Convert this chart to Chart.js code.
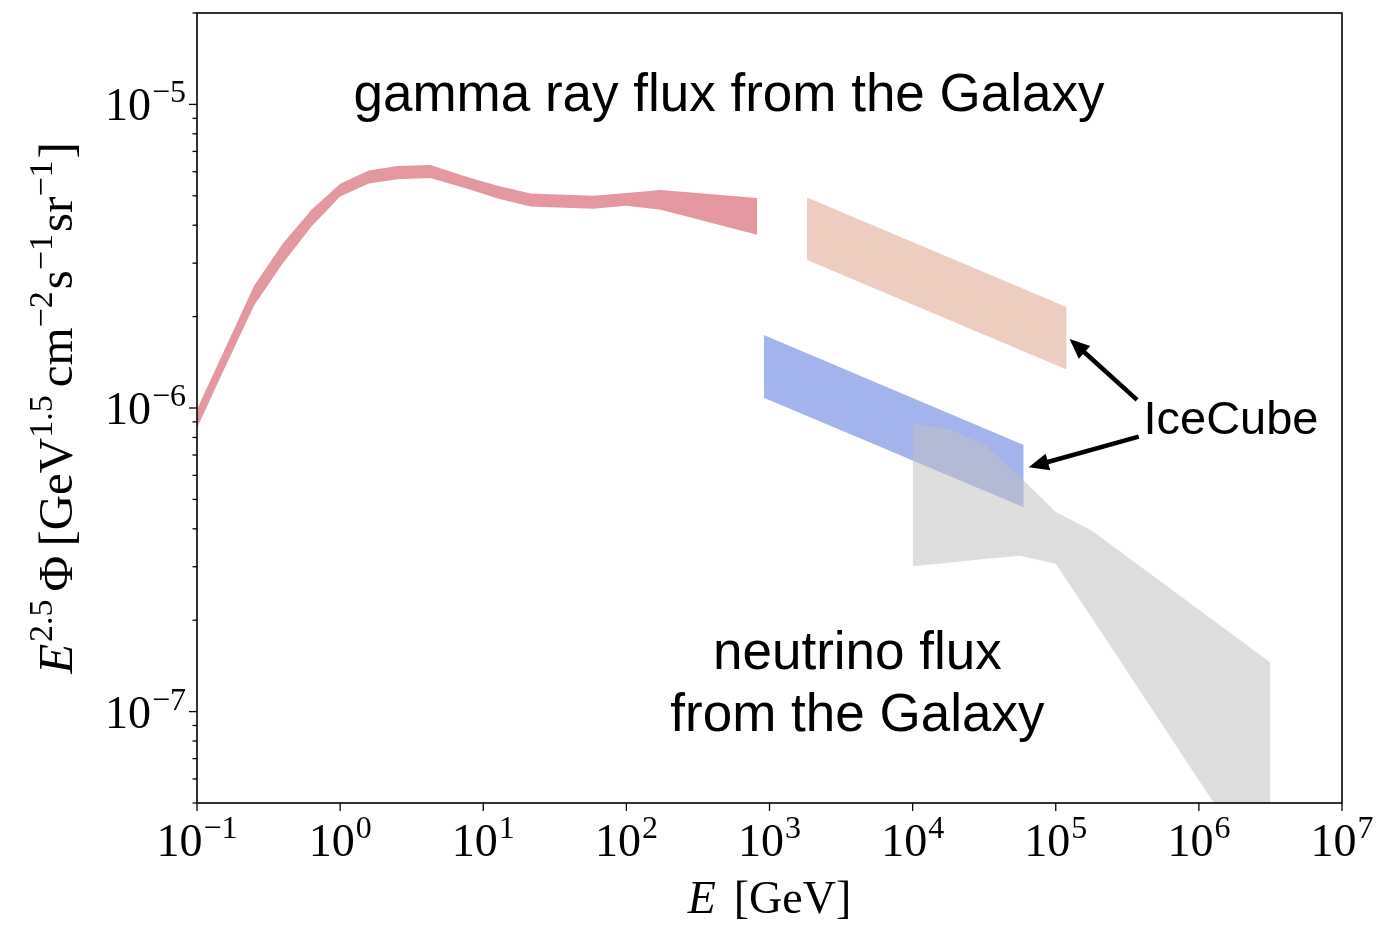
<!DOCTYPE html>
<html>
<head>
<meta charset="utf-8">
<script src="https://cdn.jsdelivr.net/npm/chart.js@4.4.1/dist/chart.umd.min.js"></script>
<style>
  html, body { margin: 0; padding: 0; background: #ffffff; }
  canvas { display: block; }
</style>
</head>
<body>
<canvas id="flux" width="1384" height="930"></canvas>
<script>
// ---- Data: energies in GeV, fluxes as E^2.5 * Phi [GeV^1.5 cm^-2 s^-1 sr^-1] ----

// Galactic diffuse gamma-ray band
const gammaE  = [0.1, 0.158, 0.251, 0.398, 0.631, 1.0, 1.585, 2.512, 4.27, 7.94, 12.6, 21.4, 58.9, 100, 174, 820];
const gammaHi = [9.90e-7, 1.58e-6, 2.53e-6, 3.48e-6, 4.50e-6, 5.48e-6, 6.06e-6, 6.27e-6, 6.31e-6, 5.74e-6, 5.40e-6, 5.09e-6, 5.00e-6, 5.11e-6, 5.22e-6, 4.92e-6];
const gammaLo = [8.60e-7, 1.37e-6, 2.18e-6, 3.00e-6, 3.96e-6, 4.97e-6, 5.49e-6, 5.67e-6, 5.72e-6, 5.25e-6, 4.90e-6, 4.61e-6, 4.53e-6, 4.64e-6, 4.50e-6, 3.72e-6];

// IceCube band (gamma-ray equivalent)
const icGammaE  = [1830, 1.19e5];
const icGammaHi = [4.94e-6, 2.15e-6];
const icGammaLo = [3.07e-6, 1.34e-6];

// IceCube band (neutrino)
const icNuE  = [912, 5.97e4];
const icNuHi = [1.74e-6, 7.56e-7];
const icNuLo = [1.08e-6, 4.71e-7];

// Galactic neutrino flux band
const nuE  = [1e4, 1.78e4, 3.16e4, 5.62e4, 1e5, 1.78e5, 3.16e6];
const nuHi = [8.86e-7, 8.53e-7, 7.58e-7, 5.94e-7, 4.54e-7, 3.95e-7, 1.45e-7];
const nuLo = [3.01e-7, 3.09e-7, 3.18e-7, 3.26e-7, 3.07e-7, 2.04e-7, 2.61e-8];

// Decade exponents for the tick labels
const xTickExps = [-1, 0, 1, 2, 3, 4, 5, 6, 7];
const yTickExps = [-7, -6, -5];

// ---- Styling ----
const SERIF = "'Liberation Serif', 'DejaVu Serif', serif";
const SANS  = "'Liberation Sans', Arial, sans-serif";

const COL_GAMMA   = 'rgb(228,151,159)';
const COL_ICGAMMA = 'rgb(238,205,192)';
const COL_ICNU    = 'rgb(163,180,236)';
const COL_NU      = 'rgba(192,192,192,0.52)';

// Annotations, placed in data coordinates
const notes = {
  gammaText: { text: 'gamma ray flux from the Galaxy', x: 521, y: 9.53e-6, size: 53 },
  nuText1:   { text: 'neutrino flux', x: 4110, y: 1.377e-7, size: 53 },
  nuText2:   { text: 'from the Galaxy', x: 4110, y: 8.60e-8, size: 53 },
  iceText:   { text: 'IceCube', x: 4.10e5, y: 8.23e-7, size: 47 },
  arrows: [
    { from: [3.70e5, 1.063e-6], to: [1.25e5, 1.688e-6] },
    { from: [3.80e5, 8.05e-7],  to: [6.47e4, 6.377e-7] }
  ]
};

function band(E, hi, lo, color, order) {
  return [
    { data: E.map((e, i) => ({ x: e, y: hi[i] })), fill: '+1', backgroundColor: color,
      borderWidth: 0, pointRadius: 0, order: order },
    { data: E.map((e, i) => ({ x: e, y: lo[i] })), fill: false,
      borderWidth: 0, pointRadius: 0, order: order }
  ];
}

// Text runs made of base pieces and raised superscript pieces
function pieces(ctx, parts) {
  let w = 0;
  for (const p of parts) { ctx.font = p.font; w += ctx.measureText(p.t).width + (p.gap || 0); }
  return w;
}
function drawPieces(ctx, parts, x, y) {
  let cx = x;
  for (const p of parts) {
    ctx.font = p.font;
    ctx.fillText(p.t, cx, y - (p.rise || 0));
    cx += ctx.measureText(p.t).width + (p.gap || 0);
  }
}

function powerLabel(exp) {
  const e = exp < 0 ? '\u2212' + (-exp) : String(exp);
  return [
    { t: '10', font: '46px ' + SERIF, gap: 1 },
    { t: e, font: '32px ' + SERIF, rise: 18 }
  ];
}

function arrow(ctx, x1, y1, x2, y2) {
  const dx = x2 - x1, dy = y2 - y1;
  const L = Math.hypot(dx, dy);
  const ux = dx / L, uy = dy / L;
  const head = 20, half = 8.5;
  ctx.save();
  ctx.strokeStyle = '#000'; ctx.fillStyle = '#000';
  ctx.lineWidth = 4.5;
  ctx.beginPath();
  ctx.moveTo(x1, y1);
  ctx.lineTo(x2 - ux * (head - 2), y2 - uy * (head - 2));
  ctx.stroke();
  ctx.beginPath();
  ctx.moveTo(x2, y2);
  ctx.lineTo(x2 - ux * head - uy * half, y2 - uy * head + ux * half);
  ctx.lineTo(x2 - ux * head + uy * half, y2 - uy * head - ux * half);
  ctx.closePath();
  ctx.fill();
  ctx.restore();
}

const decor = {
  id: 'decor',
  afterDraw(chart) {
    const ctx = chart.ctx;
    const a = chart.chartArea;
    const xs = chart.scales.x, ys = chart.scales.y;
    ctx.save();
    ctx.fillStyle = '#000';
    ctx.strokeStyle = '#000';

    // frame
    ctx.lineWidth = 1.6;
    ctx.strokeRect(a.left, a.top, a.right - a.left, a.bottom - a.top);

    // x ticks and labels (decades only)
    ctx.lineWidth = 1.3;
    ctx.textBaseline = 'alphabetic';
    for (const e of xTickExps) {
      const px = xs.getPixelForValue(Math.pow(10, e));
      ctx.beginPath(); ctx.moveTo(px, a.bottom); ctx.lineTo(px, a.bottom + 8); ctx.stroke();
      const parts = powerLabel(e);
      const w = pieces(ctx, parts);
      drawPieces(ctx, parts, px - w / 2, a.bottom + 53);
    }

    // y ticks: majors with labels, minors in between
    for (let k = -8; k <= -5; k++) {
      for (let m = 1; m <= 9; m++) {
        const v = m * Math.pow(10, k);
        if (v < ys.min * 0.999 || v > ys.max * 1.001) continue;
        const py = ys.getPixelForValue(v);
        const len = m === 1 ? 8 : 4.5;
        ctx.beginPath(); ctx.moveTo(a.left, py); ctx.lineTo(a.left - len, py); ctx.stroke();
      }
    }
    for (const e of yTickExps) {
      const py = ys.getPixelForValue(Math.pow(10, e));
      const parts = powerLabel(e);
      const w = pieces(ctx, parts);
      drawPieces(ctx, parts, a.left - 11 - w, py + 16);
    }

    // x axis title
    const xt = [
      { t: 'E', font: 'italic 46px ' + SERIF, gap: 18 },
      { t: '[GeV]', font: '46px ' + SERIF }
    ];
    const xw = pieces(ctx, xt);
    drawPieces(ctx, xt, (a.left + a.right) / 2 - xw / 2, 913);

    // y axis title (rotated)
    const B = '49px ' + SERIF, S = '34px ' + SERIF;
    const yt = [
      { t: 'E', font: 'italic 49px ' + SERIF, gap: 2 },
      { t: '2.5', font: S, rise: 20, gap: 8 },
      { t: '\u03A6', font: B, gap: 9 },
      { t: '[GeV', font: B },
      { t: '1.5', font: S, rise: 20, gap: 8 },
      { t: 'cm', font: B },
      { t: '\u22122', font: S, rise: 20, gap: 2 },
      { t: 's', font: B },
      { t: '\u22121', font: S, rise: 20, gap: 2 },
      { t: 'sr', font: B },
      { t: '\u22121', font: S, rise: 20, gap: 2 },
      { t: ']', font: B }
    ];
    const yw = pieces(ctx, yt);
    ctx.save();
    ctx.translate(72, (a.top + a.bottom) / 2);
    ctx.rotate(-Math.PI / 2);
    drawPieces(ctx, yt, -yw / 2, 0);
    ctx.restore();

    // annotations
    ctx.textAlign = 'center';
    for (const key of ['gammaText', 'nuText1', 'nuText2']) {
      const n = notes[key];
      ctx.font = n.size + 'px ' + SANS;
      ctx.fillText(n.text, xs.getPixelForValue(n.x), ys.getPixelForValue(n.y));
    }
    ctx.textAlign = 'left';
    ctx.font = notes.iceText.size + 'px ' + SANS;
    ctx.fillText(notes.iceText.text, xs.getPixelForValue(notes.iceText.x), ys.getPixelForValue(notes.iceText.y));
    for (const ar of notes.arrows) {
      arrow(ctx,
        xs.getPixelForValue(ar.from[0]), ys.getPixelForValue(ar.from[1]),
        xs.getPixelForValue(ar.to[0]), ys.getPixelForValue(ar.to[1]));
    }
    ctx.restore();
  }
};

new Chart(document.getElementById('flux').getContext('2d'), {
  type: 'line',
  data: {
    datasets: [
      ...band(gammaE, gammaHi, gammaLo, COL_GAMMA, 3),
      ...band(icGammaE, icGammaHi, icGammaLo, COL_ICGAMMA, 2),
      ...band(icNuE, icNuHi, icNuLo, COL_ICNU, 1),
      ...band(nuE, nuHi, nuLo, COL_NU, 0)
    ]
  },
  options: {
    responsive: false,
    animation: false,
    devicePixelRatio: 1,
    layout: { padding: { left: 197, right: 42, top: 13, bottom: 127 } },
    plugins: {
      legend: { display: false },
      tooltip: { enabled: false },
      filler: { propagate: false }
    },
    elements: { line: { tension: 0 }, point: { radius: 0 } },
    scales: {
      x: {
        type: 'logarithmic', min: 0.1, max: 1e7, bounds: 'data',
        grid: { display: false }, border: { display: false },
        ticks: { display: false },
        afterFit: s => { s.height = 0; }
      },
      y: {
        type: 'logarithmic', min: 5e-8, max: 2e-5, bounds: 'data',
        grid: { display: false }, border: { display: false },
        ticks: { display: false },
        afterFit: s => { s.width = 0; }
      }
    }
  },
  plugins: [decor]
});
</script>
</body>
</html>
